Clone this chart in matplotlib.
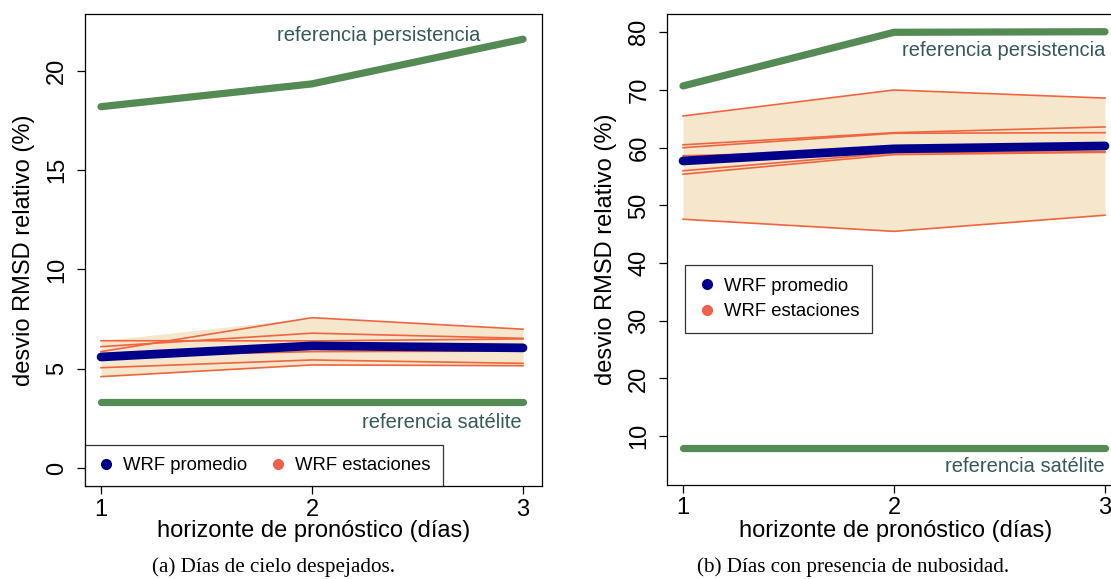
import matplotlib
matplotlib.use("Agg")
import matplotlib.pyplot as plt
from matplotlib.lines import Line2D
import numpy as np

plt.rcParams['font.family'] = ['Liberation Sans', 'DejaVu Sans']

horizons = [1, 2, 3]

# Panel (a): clear-sky days
a_persist = [18.2, 19.35, 21.6]
a_satellite = [3.3, 3.3, 3.3]
a_mean = [5.59, 6.15, 6.05]
a_stations = [
    [5.86, 7.57, 6.99],
    [6.41, 6.40, 6.50],
    [6.11, 6.79, 6.53],
    [5.62, 5.86, 5.89],
    [5.05, 5.44, 5.27],
    [4.60, 5.19, 5.15],
]

# Panel (b): cloudy days
b_persist = [70.7, 80.0, 80.1]
b_satellite = [8.0, 8.0, 8.0]
b_mean = [57.7, 59.8, 60.3]
b_stations = [
    [65.5, 70.0, 68.6],
    [60.5, 62.6, 63.6],
    [60.0, 62.5, 62.6],
    [58.6, 59.5, 60.4],
    [56.0, 59.1, 59.3],
    [55.4, 58.8, 59.2],
    [47.6, 45.5, 48.3],
]

a_yticks = [0, 5, 10, 15, 20]
b_yticks = [10, 20, 30, 40, 50, 60, 70, 80]

GREEN = "#548B54"
NAVY = "#00008B"
STATION = "#EE6540"
FILL = "#F5E6CC"
LABEL = "#35595A"

W, H = 1111, 579
fig = plt.figure(figsize=(W / 100, H / 100), dpi=100)

ax1 = fig.add_axes([85 / W, 1 - 486 / H, 457 / W, 472 / H])
ax2 = fig.add_axes([667 / W, 1 - 485 / H, 457 / W, 471 / H])


def draw(ax, persist, sat, mean, stations, yticks, ylim):
    st = np.array(stations)
    ax.fill_between(horizons, st.min(axis=0), st.max(axis=0), color=FILL, lw=0, zorder=1)
    for s in stations:
        ax.plot(horizons, s, color=STATION, lw=1.2, zorder=2)
    ax.plot(horizons, mean, color=NAVY, lw=6.3, solid_capstyle='round', zorder=3)
    ax.plot(horizons, persist, color=GREEN, lw=5.2, solid_capstyle='round', zorder=3)
    ax.plot(horizons, sat, color=GREEN, lw=5.2, solid_capstyle='round', zorder=3)
    ax.set_xlim(0.924, 3.09)
    ax.set_ylim(*ylim)
    ax.set_xticks(horizons)
    ax.set_xticklabels([str(h) for h in horizons])
    ax.set_yticks(yticks)
    ax.set_yticklabels([str(t) for t in yticks], rotation=90, va='center')
    ax.tick_params(axis='both', direction='out', length=6, width=0.9, labelsize=17, pad=3)
    ax.tick_params(axis='y', pad=6)
    ax.set_xlabel("horizonte de pronóstico (días)", fontsize=17, labelpad=0)
    ax.set_ylabel("desvio RMSD relativo (%)", fontsize=17, labelpad=8)
    for sp in ax.spines.values():
        sp.set_linewidth(0.9)


draw(ax1, a_persist, a_satellite, a_mean, a_stations, a_yticks, (-0.91, 22.87))
draw(ax2, b_persist, b_satellite, b_mean, b_stations, b_yticks, (1.54, 83.17))

ax1.text(2.80, 21.8, "referencia persistencia", ha='right', va='center', fontsize=14.5, color=LABEL)
ax1.text(2.995, 2.3, "referencia satélite", ha='right', va='center', fontsize=14.5, color=LABEL)
ax2.text(3.0, 76.9, "referencia persistencia", ha='right', va='center', fontsize=14.5, color=LABEL, clip_on=False)
ax2.text(3.0, 4.7, "referencia satélite", ha='right', va='center', fontsize=14.5, color=LABEL)

handles = [
    Line2D([], [], ls='none', marker='o', markersize=7, color=NAVY, label="WRF promedio"),
    Line2D([], [], ls='none', marker='o', markersize=7, color="#F0604A", label="WRF estaciones"),
]
leg1 = ax1.legend(handles=handles, loc='lower left', ncol=2, bbox_to_anchor=(0, 0), fontsize=13.3,
                  frameon=True, fancybox=False, edgecolor='black', borderaxespad=0,
                  handletextpad=0.4, columnspacing=1.2, borderpad=0.65, handlelength=1.0)
leg1.get_frame().set_linewidth(0.9)
leg2 = ax2.legend(handles=handles, loc='upper left', bbox_to_anchor=((685 - 667) / 457, (485 - 265) / 471),
                  fontsize=13.3, frameon=True, fancybox=False, edgecolor='black', borderaxespad=0,
                  handletextpad=0.4, borderpad=0.7, handlelength=1.0, labelspacing=0.45)
leg2.get_frame().set_linewidth(0.9)

fig.text(274 / W, 1 - 567 / H, "(a) Días de cielo despejados.", ha='center', va='center',
         fontsize=15.2, family=['Liberation Serif', 'DejaVu Serif'])
fig.text(853 / W, 1 - 567 / H, "(b) Días con presencia de nubosidad.", ha='center', va='center',
         fontsize=15.2, family=['Liberation Serif', 'DejaVu Serif'])

fig.savefig("out.png", dpi=100)
